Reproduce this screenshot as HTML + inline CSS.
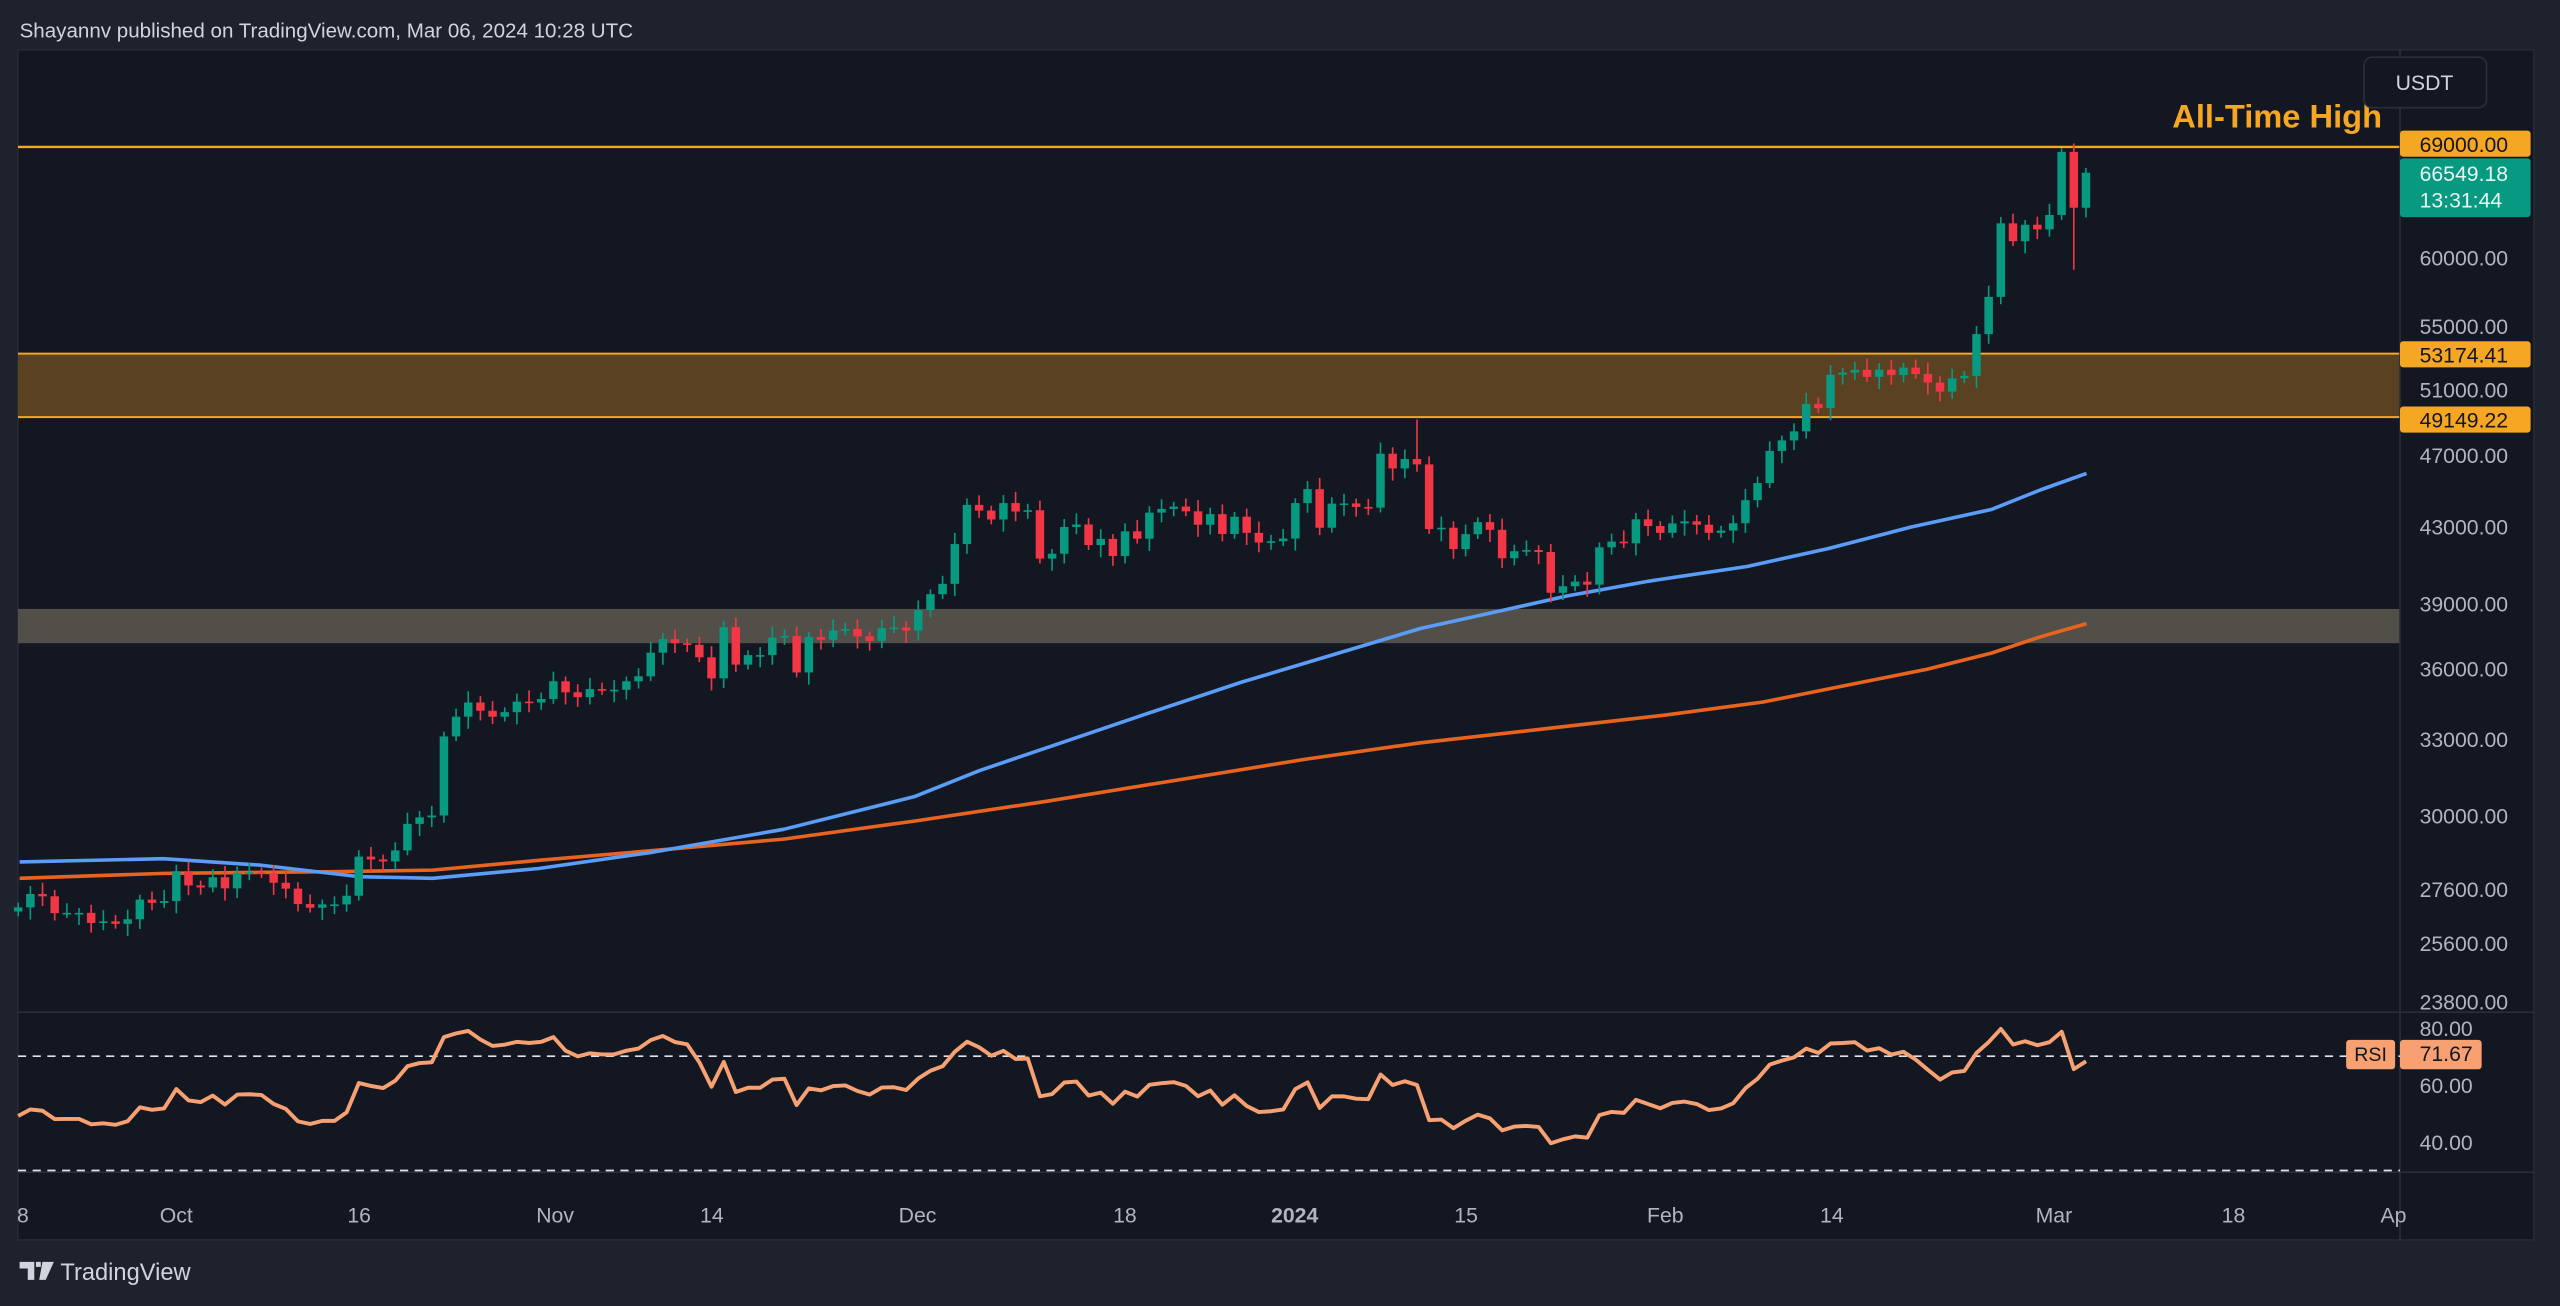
<!DOCTYPE html>
<html><head><meta charset="utf-8"><style>
html,body{margin:0;padding:0;background:#1e222d;overflow:hidden}
svg{display:block}
text{font-family:"Liberation Sans",sans-serif}
</style></head><body>
<svg id="s" xmlns="http://www.w3.org/2000/svg" width="2560" height="1306" viewBox="0 0 1568 800" preserveAspectRatio="none"></svg>
<script>
const closes=[26760,27210,27130,26570,26580,26580,26250,26300,26220,26370,27020,26910,26970,
27990,27500,27430,27780,27400,27930,27950,27920,27590,27390,26870,26750,26860,26860,27150,28500,28400,28330,28720,29680,29920,29990,33080,33900,34500,34150,33900,34090,34540,34500,34650,
35420,34940,34730,35080,35040,35050,35420,35640,36700,37320,37130,37060,36490,35550,37880,36160,36590,36590,37390,37470,35810,37420,37290,37720,37790,37450,37240,37830,37860,37720,
38690,39460,39970,41990,44080,43770,43290,44180,43720,43790,41240,41490,42890,43020,41940,42260,41370,42660,42270,43660,43860,43990,43730,43010,43580,42520,43440,42580,42070,42140,42280,
44180,44950,42850,44150,44160,43970,43930,46970,46120,46660,46350,42780,42850,41730,42510,43150,42740,41260,41620,41680,41580,39530,39850,40080,39930,41820,42120,42030,43300,42940,42580,
43080,43190,43010,42580,42700,43090,44340,45290,47130,47750,48290,49960,49700,51800,51940,52120,51660,52130,51780,52260,51850,51300,50730,51570,51730,54480,57050,62500,61130,
62390,62030,63150,68290,63720,66549];
const startDay=-13;
const X=d=>108+d*7.45;
const Y=p=>5592-494*Math.log(p);
let h='';
h+='<rect x="0" y="0" width="1568" height="800" fill="#1e222d"/>';
h+='<rect x="11" y="30.5" width="1541" height="729" fill="#131722" stroke="#2a2e39" stroke-width="0.8"/>';
h+='<text x="12" y="23" font-size="12.6" fill="#d1d4dc">Shayannv published on TradingView.com, Mar 06, 2024 10:28 UTC</text>';
h+=`<rect x="11" y="${Y(53174.41)}" width="1459" height="${Y(49149.22)-Y(53174.41)}" fill="#5a4122"/>`;
h+=`<line x1="11" x2="1470" y1="${Y(53174.41)}" y2="${Y(53174.41)}" stroke="#f5a623" stroke-width="1.2"/>`;
h+=`<line x1="11" x2="1470" y1="${Y(49149.22)}" y2="${Y(49149.22)}" stroke="#f5a623" stroke-width="1.2"/>`;
h+='<rect x="11" y="373" width="1459" height="21" fill="#524e48"/>';
h+='<line x1="11" x2="1470" y1="90" y2="90" stroke="#f5a623" stroke-width="1.5"/>';
h+='<text x="1459" y="78" font-size="20" font-weight="bold" fill="#f5a623" text-anchor="end">All-Time High</text>';
const blue=[[12,528],[100,526],[160,530],[220,537],[265,538],[330,532],[400,522],[480,508],[560,488],[600,472],[650,455],[700,438],[760,418],[820,400],[870,385],[920,374],[960,365],[1010,356],[1070,347],[1120,336],[1170,323],[1220,312],[1250,300],[1278,290]];
const org=[[12,538],[100,535],[200,534],[265,533],[330,527],[400,521],[480,514],[560,503],[640,491],[720,478],[800,465],[870,455],[950,446],[1020,438],[1080,430],[1130,420],[1180,410],[1220,400],[1250,390],[1278,382]];
h+=`<polyline points="${org.map(p=>p.join(',')).join(' ')}" fill="none" stroke="#e8641e" stroke-width="2.2" stroke-linejoin="round"/>`;
h+=`<polyline points="${blue.map(p=>p.join(',')).join(' ')}" fill="none" stroke="#5b9cf6" stroke-width="2.2" stroke-linejoin="round"/>`;
const special={102:[null,49000],156:[59000,69000],155:[null,68600]};
let prev=closes[0]*0.995;
closes.forEach((c,i)=>{
 const d=startDay+i,x=X(d),o=prev;
 let hi=Math.max(o,c)*(1+0.006+0.01*((i*7)%5)/5),lo=Math.min(o,c)*(1-0.006-0.012*((i*3)%4)/4);
 const sp=special[d]; if(sp){if(sp[0])lo=sp[0]; if(sp[1])hi=sp[1];}
 const col=c>=o?'#089981':'#f23645';
 h+=`<line x1="${x}" x2="${x}" y1="${Y(hi)}" y2="${Y(lo)}" stroke="${col}" stroke-width="1"/>`;
 const t=Y(Math.max(o,c)),b=Y(Math.min(o,c));
 h+=`<rect x="${x-2.6}" y="${t}" width="5.2" height="${Math.max(b-t,1)}" fill="${col}"/>`;
 prev=c;
});
h+='<line x1="11" x2="1552" y1="620" y2="620" stroke="#2a2e39" stroke-width="1"/>';
h+='<line x1="11" x2="1552" y1="718" y2="718" stroke="#2a2e39" stroke-width="1"/>';
h+='<line x1="1470" x2="1470" y1="30" y2="760" stroke="#2a2e39" stroke-width="1"/>';
const RY=r=>647-(r-70)*1.75;
h+=`<line x1="11" x2="1470" y1="${RY(70)}" y2="${RY(70)}" stroke="#e0e3eb" stroke-width="1" stroke-dasharray="5,4"/>`;
h+=`<line x1="11" x2="1470" y1="${RY(30)}" y2="${RY(30)}" stroke="#e0e3eb" stroke-width="1" stroke-dasharray="5,4"/>`;
let ag=280,al=300,pts=[];
for(let i=0;i<closes.length;i++){
 if(i>0){const ch=closes[i]-closes[i-1];ag=(ag*13+Math.max(ch,0))/14;al=(al*13+Math.max(-ch,0))/14;}
 let r=100-100/(1+ag/al);
 r=52+(r-52)*0.78;
 pts.push([X(startDay+i),Math.max(RY(r),622)]);
}
h+=`<polyline points="${pts.map(p=>p[0].toFixed(1)+','+p[1].toFixed(1)).join(' ')}" fill="none" stroke="#f7a172" stroke-width="2.4" stroke-linejoin="round"/>`;
[[60000,158],[55000,200],[51000,239],[47000,279],[43000,323],[39000,370],[36000,410],[33000,453],[30000,500],[27600,545],[25600,578],[23800,614]].forEach(([v,y])=>{
 h+=`<text x="1482" y="${y+4.5}" font-size="13" fill="#b2b5be">${v.toFixed(2)}</text>`;});
[[80,630],[60,665],[40,700]].forEach(([v,y])=>{h+=`<text x="1482" y="${y+4.5}" font-size="13" fill="#b2b5be">${v.toFixed(2)}</text>`;});
const tag=(y1,y2,bg)=>{h+=`<rect x="1470" y="${y1}" width="80" height="${y2-y1}" rx="2" fill="${bg}"/>`;};
tag(80,96,'#f5a623');h+='<text x="1482" y="93" font-size="13" fill="#131722">69000.00</text>';
tag(97,133,'#089981');h+='<text x="1482" y="111" font-size="13" fill="#e8f5f2">66549.18</text><text x="1482" y="127" font-size="13" fill="#e8f5f2">13:31:44</text>';
tag(209,225,'#f5a623');h+='<text x="1482" y="222" font-size="13" fill="#131722">53174.41</text>';
tag(249,265,'#f5a623');h+='<text x="1482" y="262" font-size="13" fill="#131722">49149.22</text>';
h+='<rect x="1437" y="637" width="30" height="18" rx="2" fill="#f7a172"/><text x="1452" y="650" font-size="12" fill="#131722" text-anchor="middle">RSI</text>';
h+='<rect x="1470" y="637" width="50" height="18" rx="2" fill="#f7a172"/><text x="1482" y="650" font-size="13" fill="#131722">71.67</text>';
h+='<rect x="1448" y="35" width="75" height="31" rx="5" fill="#131722" stroke="#2a2e39"/><text x="1485" y="55" font-size="13" fill="#d1d4dc" text-anchor="middle">USDT</text>';
[['8',14],['Oct',108],['16',220],['Nov',340],['14',436],['Dec',562],['18',689],['2024',793],['15',898],['Feb',1020],['14',1122],['Mar',1258],['18',1368],['Ap',1466]].forEach(([t,x])=>{
 h+=`<text x="${x}" y="749" font-size="13" fill="#b2b5be" text-anchor="middle"${t=='2024'?' font-weight="bold" fill="#d1d4dc"':''}>${t}</text>`;});
h+='<path d="M12 773h9v11h-4v-7h-5z M22 773h3v3h-3z M26 773h7l-5 11h-4z" fill="#d1d4dc"/>';
h+='<text x="37" y="784" font-size="14.5" fill="#d1d4dc">TradingView</text>';
document.getElementById('s').innerHTML=h;
</script>
</body></html>
